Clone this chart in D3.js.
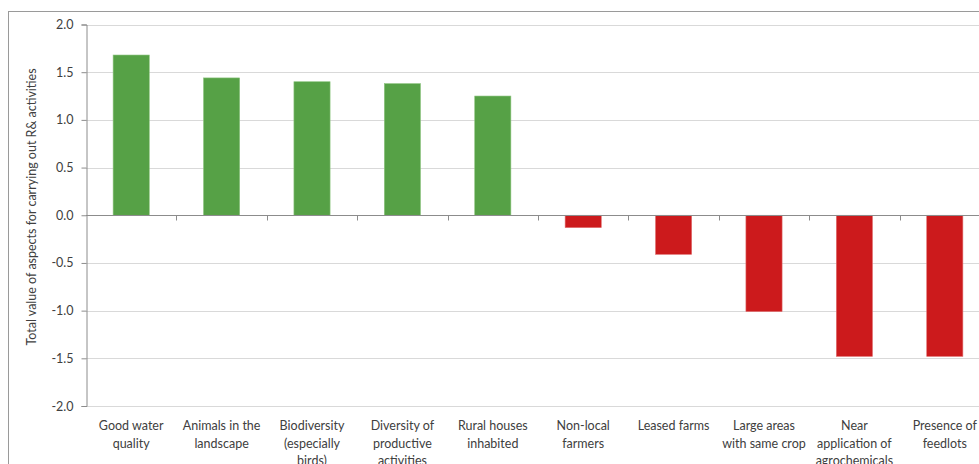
<!DOCTYPE html>
<html>
<head>
<meta charset="utf-8">
<script src="https://cdn.jsdelivr.net/npm/d3@7"></script>
<style>
  html, body { margin: 0; padding: 0; background: #fff; }
  svg { display: block; font-family: Lato, "Open Sans", sans-serif; }
</style>
</head>
<body>
<svg id="chart" width="979" height="464"></svg>
<script>
// Aspects affecting R& activities (line breaks mark wrapped label lines)
const categories = [
  "Good water\nquality",
  "Animals in the\nlandscape",
  "Biodiversity\n(especially\nbirds)",
  "Diversity of\nproductive\nactivities",
  "Rural houses\ninhabited",
  "Non-local\nfarmers",
  "Leased farms",
  "Large areas\nwith same crop",
  "Near\napplication of\nagrochemicals",
  "Presence of\nfeedlots"
];
const values = [1.68, 1.44, 1.40, 1.38, 1.25, -0.13, -0.41, -1.01, -1.48, -1.48];
const yTicks = [2.0, 1.5, 1.0, 0.5, 0.0, -0.5, -1.0, -1.5, -2.0];
const yTitle = "Total value of aspects for carrying out  R& activities";

const svg = d3.select("#chart");
const plotLeft = 86, plotRight = 990, plotTop = 24.5, plotBottom = 406;

// Outer chart frame
svg.append("rect")
  .attr("x", 8.5).attr("y", 11.5)
  .attr("width", 1000).attr("height", 500)
  .attr("fill", "none").attr("stroke", "#9a9a9a").attr("stroke-width", 1);

const y = d3.scaleLinear().domain([-2, 2]).range([plotBottom, plotTop]);
const x = d3.scaleBand().domain(categories).range([plotLeft, plotRight]).paddingInner(0.6).paddingOuter(0.3);
const xTickScale = d3.scaleBand().domain(categories).range([plotLeft, plotRight]);

// Horizontal gridlines
svg.append("g").selectAll("line")
  .data(yTicks.filter(d => d !== 0))
  .join("line")
  .attr("x1", plotLeft).attr("x2", 979)
  .attr("y1", d => Math.round(y(d)) + 0.5).attr("y2", d => Math.round(y(d)) + 0.5)
  .attr("stroke", "#d9d9d9").attr("stroke-width", 1);

// Bars
svg.append("g").selectAll("rect")
  .data(values)
  .join("rect")
  .attr("x", (d, i) => x(categories[i]))
  .attr("width", x.bandwidth())
  .attr("y", d => y(Math.max(0, d)))
  .attr("height", d => Math.abs(y(d) - y(0)))
  .attr("fill", d => d >= 0 ? "#56a146" : "#cc1a1c")
  .attr("stroke", d => d >= 0 ? "#8cc47f" : "#e07070")
  .attr("stroke-width", 0.6);

// Y axis
const yAxis = d3.axisLeft(y).tickValues(yTicks).tickFormat(d3.format(".1f")).tickSizeOuter(0).tickSize(5).tickPadding(8);
const gy = svg.append("g").attr("transform", `translate(${plotLeft + 0.5},0)`).call(yAxis);
gy.select(".domain").attr("stroke", "#8c8c8c");
gy.selectAll(".tick line").attr("stroke", "#8c8c8c");
gy.selectAll(".tick text")
  .attr("fill", "#404040").style("font-size", "12.5px")
  .style("font-family", "Lato, 'Open Sans', sans-serif")
  .text(d => d3.format(".1f")(d).replace("−", "-"));

// Category axis along zero line
const zeroY = Math.round(y(0)) + 0.5;
svg.append("line")
  .attr("x1", plotLeft).attr("x2", 979).attr("y1", zeroY).attr("y2", zeroY)
  .attr("stroke", "#8c8c8c");
svg.append("g").selectAll("line")
  .data(categories.slice(1))
  .join("line")
  .attr("x1", d => Math.round(xTickScale(d)) + 0.5)
  .attr("x2", d => Math.round(xTickScale(d)) + 0.5)
  .attr("y1", zeroY).attr("y2", zeroY + 5)
  .attr("stroke", "#8c8c8c");

// Category labels below the plot
const labels = svg.append("g").selectAll("text")
  .data(categories)
  .join("text")
  .attr("x", d => xTickScale(d) + xTickScale.bandwidth() / 2)
  .attr("y", 430)
  .attr("text-anchor", "middle")
  .attr("fill", "#404040")
  .style("font-size", "12.5px");
labels.each(function(d) {
  const t = d3.select(this);
  d.split("\n").forEach((line, i) => {
    t.append("tspan")
      .attr("x", t.attr("x"))
      .attr("dy", i === 0 ? 0 : 17.5)
      .text(line);
  });
});

// Y axis title
svg.append("text")
  .attr("transform", "translate(36,207) rotate(-90)")
  .attr("text-anchor", "middle")
  .attr("fill", "#404040")
  .style("font-size", "12.5px")
  .text(yTitle);
</script>
</body>
</html>
